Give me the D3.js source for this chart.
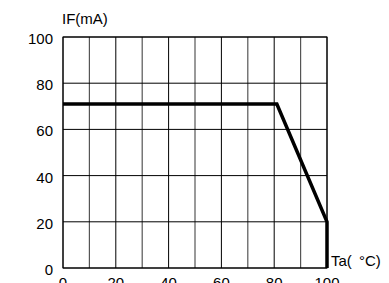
<!DOCTYPE html>
<html>
<head>
<meta charset="utf-8">
<script src="https://cdn.jsdelivr.net/npm/d3@7"></script>
<style>
  body { margin: 0; background: #fff; }
  text { font-family: Arial, "Liberation Sans", sans-serif; fill: #000; }
</style>
</head>
<body>
<svg id="chart"></svg>
<script>
// derating curve: forward current vs ambient temperature
const tempC = [0, 81, 100, 100];
const currentMA = [71, 71, 20, 0];
const xTicks = [0, 20, 40, 60, 80, 100];
const yTicks = [0, 20, 40, 60, 80, 100];
const xGrid = d3.range(0, 101, 10);

const width = 389, height = 283;
const margin = {top: 37, right: 62, bottom: 15, left: 63};

const svg = d3.select("#chart")
    .attr("width", width)
    .attr("height", height);

const x = d3.scaleLinear().domain([0, 100]).range([margin.left, width - margin.right]);
const y = d3.scaleLinear().domain([0, 100]).range([height - margin.bottom, margin.top]);

// grid
svg.append("g").selectAll("line")
    .data(xGrid)
    .enter().append("line")
    .attr("x1", d => x(d)).attr("x2", d => x(d))
    .attr("y1", y(0)).attr("y2", y(100))
    .attr("stroke", d => d % 20 === 0 ? "#000" : "#555")
    .attr("stroke-width", d => d % 20 === 0 ? 1 : 1.2);

svg.append("g").selectAll("line")
    .data(yTicks)
    .enter().append("line")
    .attr("x1", x(0)).attr("x2", x(100))
    .attr("y1", d => y(d)).attr("y2", d => y(d))
    .attr("stroke", "#000")
    .attr("stroke-width", 1);

// frame
svg.append("rect")
    .attr("x", x(0)).attr("y", y(100))
    .attr("width", x(100) - x(0)).attr("height", y(0) - y(100))
    .attr("fill", "none").attr("stroke", "#000").attr("stroke-width", 1);

// tick labels
svg.append("g").selectAll("text")
    .data(yTicks)
    .enter().append("text")
    .attr("x", x(0) - 10)
    .attr("y", d => y(d) + 7)
    .attr("text-anchor", "end")
    .attr("font-size", 15)
    .text(d => d);

svg.append("g").selectAll("text")
    .data(xTicks)
    .enter().append("text")
    .attr("x", d => x(d))
    .attr("y", y(0) + 19.5)
    .attr("text-anchor", "middle")
    .attr("font-size", 15)
    .text(d => d);

// axis titles
svg.append("text")
    .attr("x", x(0) - 1)
    .attr("y", 23.5)
    .attr("font-size", 15)
    .text("IF(mA)");

const ta = svg.append("text")
    .attr("x", x(100) + 4)
    .attr("y", y(0) - 2.5)
    .attr("font-size", 15);
ta.append("tspan").text("Ta( ");
ta.append("tspan").attr("dx", 3).text("°C)");

// curve
const line = d3.line()
    .x((d, i) => x(tempC[i]))
    .y(d => y(d));

svg.append("path")
    .datum(currentMA)
    .attr("d", line)
    .attr("fill", "none")
    .attr("stroke", "#000")
    .attr("stroke-width", 3.5)
    .attr("stroke-linejoin", "miter");
</script>
</body>
</html>
